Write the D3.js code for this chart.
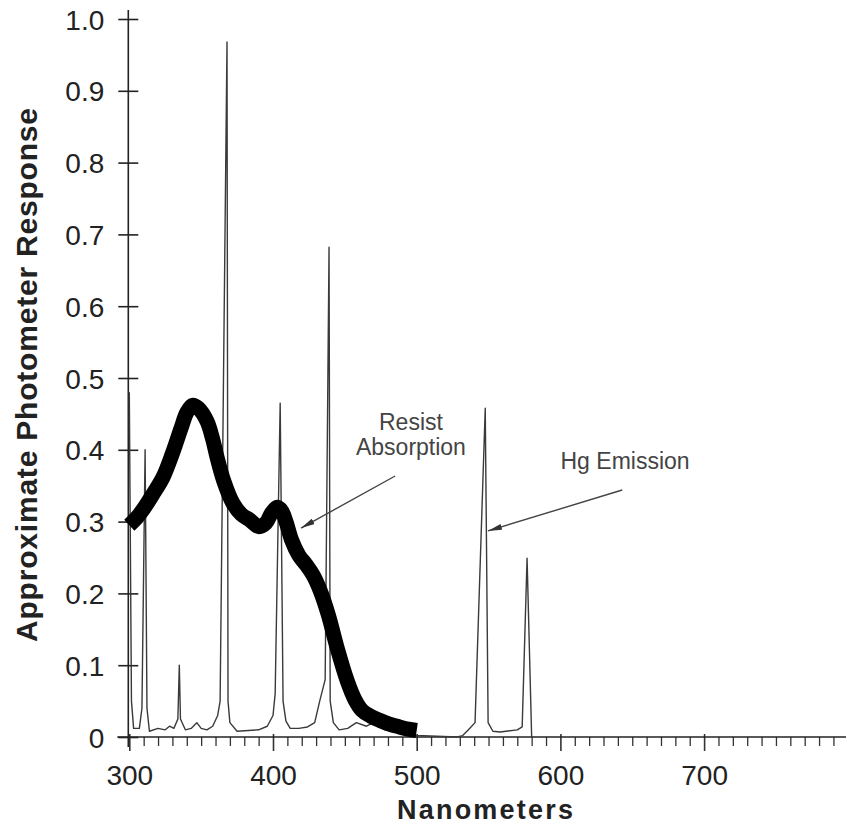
<!DOCTYPE html>
<html><head><meta charset="utf-8">
<script src="https://cdn.jsdelivr.net/npm/d3@7"></script>
<style>html,body{margin:0;padding:0;background:#fff;} svg{display:block;font-family:"Liberation Sans",Arial,Helvetica,sans-serif;}</style>
</head><body><svg id="chart" width="846" height="826"></svg>
<script>
// ---- data ----
const yTicks = [0, 0.1, 0.2, 0.3, 0.4, 0.5, 0.6, 0.7, 0.8, 0.9, 1.0];
const yTickLabels = ["0", "0.1", "0.2", "0.3", "0.4", "0.5", "0.6", "0.7", "0.8", "0.9", "1.0"];
const xMajorTicks = [300, 400, 500, 600, 700];
const xTickLabels = ["300", "400", "500", "600", "700"];
const xMinorStep = 10;

// Resist absorption (thick curve)
const absorptionNm  = [300, 305, 310, 317, 323.5, 330, 336, 340, 344, 348, 354, 358, 361, 365.5, 372, 378, 384, 390, 395, 399, 403, 406, 409, 413, 418, 423, 428, 433, 438.5, 444.5, 451.5, 457, 462, 468, 474.5, 481, 488, 494, 500];
const absorptionVal = [0.295, 0.305, 0.318, 0.34, 0.362, 0.395, 0.43, 0.452, 0.462, 0.458, 0.44, 0.415, 0.39, 0.358, 0.326, 0.31, 0.302, 0.293, 0.298, 0.312, 0.32, 0.315, 0.3, 0.274, 0.253, 0.24, 0.225, 0.203, 0.17, 0.125, 0.079, 0.052, 0.037, 0.029, 0.023, 0.018, 0.014, 0.011, 0.009];

// Hg emission (thin line)
const emissionNm  = [300, 301.5, 303, 307, 308.8, 311, 312.3, 314, 320, 325, 328, 331, 333.8, 334.8, 335.6, 339, 343, 347, 350, 354, 358, 361.5, 363.2, 368, 368.7, 370, 375, 390, 396, 400, 401.5, 405, 407, 409, 412, 418, 424, 429, 432.5, 436.3, 439, 439.8, 442, 446, 452, 458, 465, 470, 478, 490, 500, 528, 532, 536, 540.6, 547.7, 549.7, 553, 558, 570, 573.4, 576.8, 580];
const emissionVal = [0.48, 0.05, 0.012, 0.012, 0.04, 0.40, 0.04, 0.008, 0.012, 0.01, 0.015, 0.012, 0.025, 0.10, 0.025, 0.01, 0.012, 0.02, 0.012, 0.01, 0.015, 0.03, 0.05, 0.968, 0.05, 0.02, 0.008, 0.01, 0.015, 0.03, 0.06, 0.465, 0.05, 0.022, 0.012, 0.012, 0.014, 0.02, 0.05, 0.08, 0.682, 0.05, 0.02, 0.01, 0.012, 0.02, 0.015, 0.02, 0.01, 0.005, 0.002, 0.0, 0.002, 0.01, 0.02, 0.458, 0.02, 0.008, 0.007, 0.01, 0.014, 0.249, 0.0];

// annotations (data units)
const annoLabels = [["Resist", "Absorption"], ["Hg Emission"]];
const annoTextNm = [496, 645];
const annoTextVal = [[0.428, 0.393], [0.373]];
const arrowFromNm = [485, 643];
const arrowFromVal = [0.3635, 0.344];
const arrowToNm = [419.5, 549.6];
const arrowToVal = [0.291, 0.287];

// ---- drawing ----
const svg = d3.select("#chart");
const x = d3.scaleLinear().domain([300, 800]).range([129.3, 847.8]);
const y = d3.scaleLinear().domain([0, 1]).range([737, 19]);
const ink = "#222";

// y axis
const yAxis = d3.axisLeft(y).tickValues(yTicks).tickFormat((d, i) => yTickLabels[i])
  .tickSize(10).tickSizeOuter(0).tickPadding(14);
const gy = svg.append("g").attr("transform", `translate(${x(300) - 1},0)`).call(yAxis);
gy.select(".domain").remove();
gy.selectAll(".tick line").attr("x1", 10).attr("stroke", ink).attr("stroke-width", 1.6);
gy.selectAll(".tick text").attr("font-size", 28).attr("fill", ink).attr("dy", "0.36em");
gy.append("line").attr("x1", 0).attr("x2", 0).attr("y1", y(1) - 9).attr("y2", y(0) + 10)
  .attr("stroke", ink).attr("stroke-width", 1.6);

// x axis
const xAxis = d3.axisBottom(x).tickValues(d3.range(300, 801, xMinorStep))
  .tickFormat(d => { const i = xMajorTicks.indexOf(d); return i >= 0 ? xTickLabels[i] : ""; })
  .tickSize(9).tickSizeOuter(0).tickPadding(0);
const gx = svg.append("g").attr("transform", `translate(0,${y(0)})`).call(xAxis);
gx.select(".domain").remove();
gx.selectAll(".tick line").attr("stroke", "#333").attr("stroke-width", 1.3)
  .filter(d => d % 100 === 0).attr("y1", -3).attr("y2", 14).attr("stroke-width", 1.6);
gx.selectAll(".tick text").attr("font-size", 28).attr("fill", ink).attr("y", 48).attr("dy", 0);
gx.append("line").attr("x1", x(300) - 12).attr("x2", 846).attr("y1", 0).attr("y2", 0)
  .attr("stroke", ink).attr("stroke-width", 1.6);

// axis titles
svg.append("text").attr("x", 485).attr("y", 819).attr("text-anchor", "middle")
  .attr("font-size", 27).attr("font-weight", "bold").attr("fill", ink)
  .attr("textLength", 176).attr("lengthAdjust", "spacing").text("Nanometers");
svg.append("text").attr("transform", "translate(37,375) rotate(-90)").attr("text-anchor", "middle")
  .attr("font-size", 30).attr("font-weight", "bold").attr("fill", ink)
  .attr("textLength", 534).attr("lengthAdjust", "spacing").text("Approximate Photometer Response");

// emission line
const emission = emissionNm.map((d, i) => [d, emissionVal[i]]);
svg.append("path").datum(emission)
  .attr("d", d3.line().x(d => x(d[0])).y(d => y(d[1])))
  .attr("fill", "none").attr("stroke", "#3a3a3a").attr("stroke-width", 1.4).attr("stroke-linejoin", "round");

// absorption curve
const absorption = absorptionNm.map((d, i) => [d, absorptionVal[i]]);
svg.append("path").datum(absorption)
  .attr("d", d3.line().curve(d3.curveCatmullRom.alpha(0.5)).x(d => x(d[0])).y(d => y(d[1])))
  .attr("fill", "none").attr("stroke", "#000").attr("stroke-width", 15)
  .attr("stroke-linejoin", "round").attr("stroke-linecap", "butt");

// arrows
svg.append("defs").append("marker").attr("id", "ah").attr("viewBox", "0 0 14 6")
  .attr("refX", 14).attr("refY", 3).attr("markerWidth", 14).attr("markerHeight", 6)
  .attr("markerUnits", "userSpaceOnUse").attr("orient", "auto")
  .append("path").attr("d", "M0,0 L14,3 L0,6 Z").attr("fill", "#333");
arrowFromNm.forEach((d, i) => {
  svg.append("line").attr("x1", x(d)).attr("y1", y(arrowFromVal[i]))
    .attr("x2", x(arrowToNm[i])).attr("y2", y(arrowToVal[i]))
    .attr("stroke", "#444").attr("stroke-width", 1.4).attr("marker-end", "url(#ah)");
});

// annotation text
annoLabels.forEach((lines, i) => {
  lines.forEach((t, j) => {
    svg.append("text").attr("x", x(annoTextNm[i])).attr("y", y(annoTextVal[i][j]))
      .attr("text-anchor", "middle").attr("font-size", 23).attr("fill", "#444").text(t);
  });
});
</script></body></html>
